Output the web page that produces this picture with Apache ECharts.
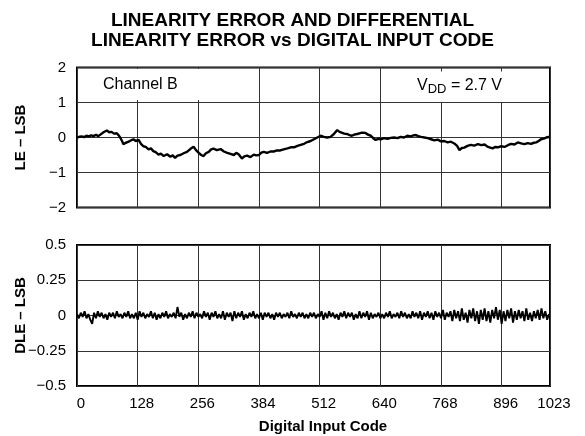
<!DOCTYPE html>
<html>
<head>
<meta charset="utf-8">
<script src="https://cdn.jsdelivr.net/npm/echarts@6/dist/echarts.min.js"></script>
<style>html,body{margin:0;padding:0;background:#fff;}#c{width:585px;height:436px;}</style>
</head>
<body>
<div id="c"></div>
<script>
// x positions in plot units; right edge of the plot is labelled 1023
var xMax = 998;
var xTickLabels = ['0','128','256','384','512','640','768','896','1023'];
var leYTicks = [-2, -1, 0, 1, 2];
var dleYTicks = [-0.5, -0.25, 0, 0.25, 0.5];

var leCodes = [0,5,10,15,20,25,30,35,40,45,50,56,60,63,68,73,78,84,88,91,95,98,103,109,114,119,124,130,135,140,145,151,156,161,166,172,177,183,190,197,202,207,212,218,225,232,239,246,251,257,262,267,272,278,283,288,295,303,310,317,324,331,336,341,348,353,359,366,373,378,384,389,394,401,408,415,422,429,436,444,451,458,465,472,479,486,493,500,507,514,521,528,535,542,549,554,558,564,570,575,580,585,591,596,601,605,609,614,620,625,630,636,641,648,655,662,669,676,683,690,697,704,710,715,720,726,733,740,747,754,761,768,775,782,789,796,802,807,812,817,824,831,838,846,853,860,866,872,877,882,888,895,902,909,916,923,930,937,944,951,958,964,969,974,979,985,990,998];
var leValues = [0.0,0.02,0.03,0.01,0.05,0.03,0.06,0.04,0.08,0.04,0.09,0.15,0.18,0.2,0.15,0.16,0.11,0.12,0.06,0.0,-0.1,-0.19,-0.15,-0.12,-0.08,-0.05,-0.1,-0.07,-0.18,-0.25,-0.27,-0.34,-0.31,-0.39,-0.42,-0.49,-0.46,-0.53,-0.48,-0.55,-0.51,-0.58,-0.52,-0.5,-0.45,-0.41,-0.33,-0.26,-0.36,-0.44,-0.5,-0.53,-0.45,-0.41,-0.34,-0.32,-0.36,-0.33,-0.4,-0.44,-0.47,-0.5,-0.44,-0.48,-0.6,-0.54,-0.52,-0.56,-0.49,-0.51,-0.5,-0.43,-0.41,-0.44,-0.4,-0.4,-0.37,-0.37,-0.34,-0.31,-0.28,-0.28,-0.24,-0.21,-0.18,-0.13,-0.1,-0.05,0.0,0.05,0.02,0.0,0.02,0.1,0.21,0.16,0.15,0.11,0.1,0.07,0.05,0.08,0.1,0.12,0.14,0.17,0.13,0.08,0.05,-0.02,-0.07,-0.04,-0.05,-0.02,-0.04,-0.01,0.0,-0.02,0.02,0.0,0.05,0.03,0.06,0.07,0.04,0.02,0.0,-0.02,-0.05,-0.08,-0.06,-0.11,-0.1,-0.14,-0.12,-0.17,-0.24,-0.36,-0.3,-0.29,-0.24,-0.21,-0.23,-0.19,-0.22,-0.2,-0.26,-0.29,-0.31,-0.27,-0.28,-0.25,-0.27,-0.22,-0.18,-0.2,-0.14,-0.17,-0.19,-0.16,-0.18,-0.15,-0.14,-0.1,-0.05,-0.03,0.0,0.02];

var dleStart = 0;
var dleStep = 4;
var dleValues = [
 0.01,-0.02,0.02,-0.01,0.03,-0.02,0.01,-0.03,-0.06,0.02,-0.02,0.03,-0.01,0.02,-0.02,0.01,-0.03,0.02,-0.01,0.02,-0.02,0.03,-0.01,0.01,-0.02,
 0.02,-0.01,0.03,-0.02,0.01,-0.02,0.02,-0.03,0.03,-0.01,0.02,-0.02,0.01,-0.01,0.03,-0.02,0.02,-0.03,0.01,-0.02,0.02,-0.01,0.03,-0.02,0.01,
 -0.01,0.02,-0.02,0.06,-0.01,0.02,-0.03,0.01,-0.02,0.02,-0.01,0.03,-0.02,0.02,-0.01,0.01,-0.02,0.03,-0.01,0.02,-0.03,0.02,-0.01,0.03,-0.02,
 0.01,-0.02,0.03,-0.03,0.02,-0.01,0.02,-0.04,0.03,-0.02,0.02,-0.01,0.03,-0.03,0.01,-0.02,0.02,-0.01,0.03,-0.02,0.01,-0.02,0.02,-0.03,0.02,
 -0.01,0.02,-0.02,0.01,-0.03,0.02,-0.01,0.02,-0.02,0.01,-0.01,0.02,-0.02,0.03,-0.01,0.01,-0.02,0.02,-0.01,0.02,-0.02,0.01,-0.02,0.02,-0.01,
 0.02,-0.02,0.01,-0.01,0.03,-0.03,0.02,-0.02,0.03,-0.01,0.02,-0.02,0.01,-0.03,0.02,-0.01,0.03,-0.02,0.02,-0.01,0.02,-0.03,0.01,-0.02,0.03,
 -0.02,0.02,-0.01,0.03,-0.03,0.02,-0.02,0.01,-0.01,0.02,-0.02,0.01,-0.02,0.02,-0.01,0.03,-0.02,0.01,-0.01,0.02,-0.02,0.03,-0.01,0.02,-0.02,
 0.01,-0.02,0.03,-0.01,0.02,-0.02,0.03,-0.03,0.02,-0.01,0.03,-0.02,0.02,-0.03,0.03,-0.01,0.02,-0.02,0.04,-0.03,0.02,-0.01,0.03,-0.04,0.04,
 -0.02,0.03,-0.04,0.05,-0.03,0.02,-0.05,0.04,-0.02,0.05,-0.04,0.03,-0.06,0.04,-0.03,0.05,-0.04,0.03,-0.05,0.04,-0.02,0.06,-0.03,0.04,-0.06,
 0.03,-0.04,0.04,-0.02,0.05,-0.05,0.03,-0.03,0.04,-0.02,0.03,-0.04,0.05,-0.03,0.02,-0.04,0.03,-0.02,0.04,-0.03,0.05,-0.02,0.03,-0.03,0.01
];

var leData = leCodes.map(function (c, i) { return [c, leValues[i]]; });
var dleData = dleValues.map(function (v, i) { return [dleStart + i * dleStep, v]; });

function minus(v) { return String(v).replace('-', '\u2212'); }
function xLabel(v) {
  if (v >= xMax) return xTickLabels[xTickLabels.length - 1];
  return xTickLabels[Math.round(v / 128)];
}

var FONT = 'Liberation Sans, Arial, Helvetica, sans-serif';
var gridLine = { show: true, lineStyle: { color: '#333', width: 1 } };

function xAxisCfg(gridIndex, showLabels) {
  return {
    type: 'value', gridIndex: gridIndex, min: 0, max: xMax, interval: 128,
    axisLine: { show: false }, axisTick: { show: false },
    axisLabel: { show: showLabels, formatter: xLabel, color: '#000', fontSize: 15, fontFamily: FONT, margin: 10,
      padding: [0, 0, 0, 8] },
    splitLine: gridLine,
    name: showLabels ? 'Digital Input Code' : '',
    nameLocation: 'middle', nameGap: 33, nameMoveOverlap: false,
    nameTextStyle: { color: '#000', fontWeight: 'bold', fontSize: 15, fontFamily: FONT, padding: [0, 0, 0, 19] }
  };
}

function yAxisCfg(gridIndex, ticks, interval, name) {
  return {
    type: 'value', gridIndex: gridIndex, min: ticks[0], max: ticks[ticks.length - 1], interval: interval,
    axisLine: { show: false }, axisTick: { show: false }, splitLine: gridLine,
    axisLabel: { formatter: minus, color: '#000', fontSize: 15, fontFamily: FONT, margin: 11 },
    name: name, nameLocation: 'middle', nameGap: 49, nameMoveOverlap: false,
    nameTextStyle: { color: '#000', fontWeight: 'bold', fontSize: 15, fontFamily: FONT }
  };
}

var chart = echarts.init(document.getElementById('c'), null, { renderer: 'canvas' });
chart.setOption({
  animation: false,
  backgroundColor: '#fff',
  title: [
    { text: 'LINEARITY ERROR AND DIFFERENTIAL\nLINEARITY ERROR vs DIGITAL INPUT CODE', left: 'center', top: 6,
      textStyle: { color: '#000', fontSize: 19, fontWeight: 'bold', fontFamily: FONT, lineHeight: 20 } },
    { text: 'Channel B', left: 79, top: 69, backgroundColor: '#fff', padding: [8, 25, 7, 24],
      textStyle: { color: '#000', fontSize: 16, fontWeight: 'normal', fontFamily: FONT } },
    { text: 'V{sub|DD} = 2.7 V', left: 417, top: 69, backgroundColor: '#fff', padding: [6, 10, 6, 0],
      textStyle: { color: '#000', fontSize: 16, fontWeight: 'normal', fontFamily: FONT,
        rich: { sub: { fontSize: 13, fontFamily: FONT, color: '#000', padding: [8, 0, 0, 0] } } } }
  ],
  grid: [
    { left: 77, right: 35, top: 67.5, height: 140, show: true, borderColor: '#000', borderWidth: 2,
      backgroundColor: 'transparent', containLabel: false, outerBoundsMode: 'none' },
    { left: 77, right: 35, top: 245, height: 141, show: true, borderColor: '#000', borderWidth: 2,
      backgroundColor: 'transparent', containLabel: false, outerBoundsMode: 'none' }
  ],
  xAxis: [xAxisCfg(0, false), xAxisCfg(1, true)],
  yAxis: [
    yAxisCfg(0, leYTicks, 1, 'LE \u2013 LSB'),
    yAxisCfg(1, dleYTicks, 0.25, 'DLE \u2013 LSB')
  ],
  series: [
    { type: 'line', xAxisIndex: 0, yAxisIndex: 0, data: leData, showSymbol: false, symbol: 'none',
      lineStyle: { color: '#000', width: 2.4 }, z: 3 },
    { type: 'line', xAxisIndex: 1, yAxisIndex: 1, data: dleData, showSymbol: false, symbol: 'none',
      lineStyle: { color: '#000', width: 1.9 }, z: 3 }
  ]
});
</script>
</body>
</html>
